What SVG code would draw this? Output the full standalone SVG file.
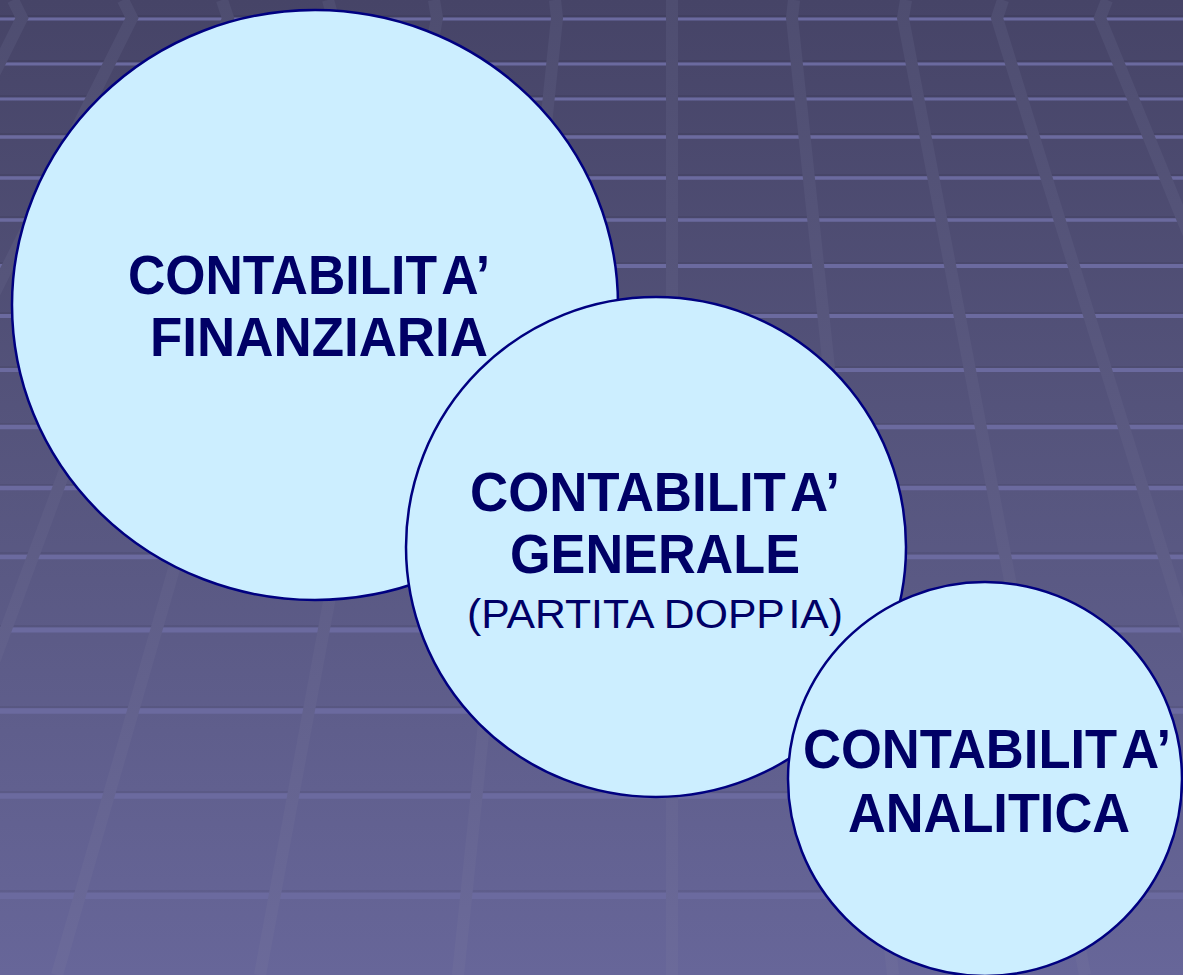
<svg xmlns="http://www.w3.org/2000/svg" width="1183" height="975" viewBox="0 0 1183 975">
  <defs>
    <linearGradient id="bg" x1="0" y1="0" x2="0" y2="975" gradientUnits="userSpaceOnUse">
      <stop offset="0" stop-color="#464467"/>
      <stop offset="0.5" stop-color="#57567f"/>
      <stop offset="1" stop-color="#676699"/>
    </linearGradient>
    <linearGradient id="vline" x1="0" y1="0" x2="0" y2="975" gradientUnits="userSpaceOnUse">
      <stop offset="0" stop-color="#4e4d70"/>
      <stop offset="0.5" stop-color="#5c5b83"/>
      <stop offset="1" stop-color="#6b6a9a"/>
    </linearGradient>
    <style>
      .h { stroke: #6b6a9f; fill: none; }
      .hs { stroke: #000000; stroke-opacity: 0.06; fill: none; stroke-width: 2; }
      .v { stroke: url(#vline); stroke-width: 12; fill: none; stroke-linejoin: miter; }
      .node { fill: #cceeff; stroke: #000080; stroke-width: 2.5; }
      .tb { font-family: "Liberation Sans", Arial, sans-serif; font-weight: bold; font-size: 56px; fill: #000066; word-spacing: -9px; }
      .tr { font-family: "Liberation Sans", Arial, sans-serif; font-weight: normal; font-size: 40px; fill: #000066; }
      .tight { word-spacing: -7px; }
    </style>
  </defs>

  <g id="background">
    <rect x="0" y="0" width="1183" height="975" fill="url(#bg)"/>
    <g id="hlines">
      <line class="hs" x1="0" y1="16" x2="1183" y2="16"/><line class="h" x1="0" y1="19" x2="1183" y2="19" stroke-width="3"/>
      <line class="hs" x1="0" y1="61" x2="1183" y2="61"/><line class="h" x1="0" y1="64" x2="1183" y2="64" stroke-width="3"/>
      <line class="hs" x1="0" y1="96" x2="1183" y2="96"/><line class="h" x1="0" y1="99" x2="1183" y2="99" stroke-width="3.2"/>
      <line class="hs" x1="0" y1="134" x2="1183" y2="134"/><line class="h" x1="0" y1="137" x2="1183" y2="137" stroke-width="3.4"/>
      <line class="hs" x1="0" y1="175" x2="1183" y2="175"/><line class="h" x1="0" y1="178" x2="1183" y2="178" stroke-width="3.5"/>
      <line class="hs" x1="0" y1="217" x2="1183" y2="217"/><line class="h" x1="0" y1="220" x2="1183" y2="220" stroke-width="3.7"/>
      <line class="hs" x1="0" y1="263" x2="1183" y2="263"/><line class="h" x1="0" y1="266" x2="1183" y2="266" stroke-width="3.8"/>
      <line class="hs" x1="0" y1="313" x2="1183" y2="313"/><line class="h" x1="0" y1="316" x2="1183" y2="316" stroke-width="4"/>
      <line class="hs" x1="0" y1="367" x2="1183" y2="367"/><line class="h" x1="0" y1="370" x2="1183" y2="370" stroke-width="4.1"/>
      <line class="hs" x1="0" y1="424" x2="1183" y2="424"/><line class="h" x1="0" y1="427" x2="1183" y2="427" stroke-width="4.3"/>
      <line class="hs" x1="0" y1="485" x2="1183" y2="485"/><line class="h" x1="0" y1="488" x2="1183" y2="488" stroke-width="4.5"/>
      <line class="hs" x1="0" y1="553" x2="1183" y2="553"/><line class="h" x1="0" y1="557" x2="1183" y2="557" stroke-width="4.7"/>
      <line class="hs" x1="0" y1="626" x2="1183" y2="626"/><line class="h" x1="0" y1="630" x2="1183" y2="630" stroke-width="5"/>
      <line class="hs" x1="0" y1="707" x2="1183" y2="707"/><line class="h" x1="0" y1="711" x2="1183" y2="711" stroke-width="5.3"/>
      <line class="hs" x1="0" y1="792" x2="1183" y2="792"/><line class="h" x1="0" y1="796" x2="1183" y2="796" stroke-width="5.6"/>
      <line class="hs" x1="0" y1="891" x2="1183" y2="891"/><line class="h" x1="0" y1="896" x2="1183" y2="896" stroke-width="6"/>
    </g>
    <g id="vlines">
      <polyline class="v" points="13,0 22,18 -10,82"/>
      <polyline class="v" points="123,0 132,18 -10,302"/>
      <polyline class="v" points="222,0 228,18 65,470 -8,667"/>
      <polyline class="v" points="328,0 333,18 165,600 57,975"/>
      <polyline class="v" points="434,0 437,18 260,975"/>
      <polyline class="v" points="555,0 557,18 458,975"/>
      <polyline class="v" points="672,0 672,18 672,975"/>
      <polyline class="v" points="794,0 792,18 893,975"/>
      <polyline class="v" points="906,0 903,18 1085,975"/>
      <polyline class="v" points="1003,0 997,18 1200,673"/>
      <polyline class="v" points="1107,0 1100,18 1200,262"/>
    </g>
  </g>

  <g id="connectors"></g>

  <g id="node-finanziaria">
    <ellipse class="node" cx="315" cy="305" rx="303" ry="295"/>
    <text class="tb" x="128" y="294" textLength="362" lengthAdjust="spacingAndGlyphs">CONTABILIT A’</text>
    <text class="tb" x="150" y="356" textLength="338" lengthAdjust="spacingAndGlyphs">FINANZIARIA</text>
  </g>

  <g id="node-generale">
    <circle class="node" cx="656" cy="547" r="250"/>
    <text class="tb" x="470" y="511" textLength="370" lengthAdjust="spacingAndGlyphs">CONTABILIT A’</text>
    <text class="tb" x="510" y="573" textLength="290" lengthAdjust="spacingAndGlyphs">GENERALE</text>
    <text class="tr" x="467" y="628" textLength="376" lengthAdjust="spacingAndGlyphs">(PARTITA <tspan class="tight">DOPP IA)</tspan></text>
  </g>

  <g id="node-analitica">
    <circle class="node" cx="985" cy="779" r="197"/>
    <text class="tb" x="803" y="768" textLength="368" lengthAdjust="spacingAndGlyphs">CONTABILIT A’</text>
    <text class="tb" x="848" y="832" textLength="282" lengthAdjust="spacingAndGlyphs">ANALITICA</text>
  </g>
</svg>
